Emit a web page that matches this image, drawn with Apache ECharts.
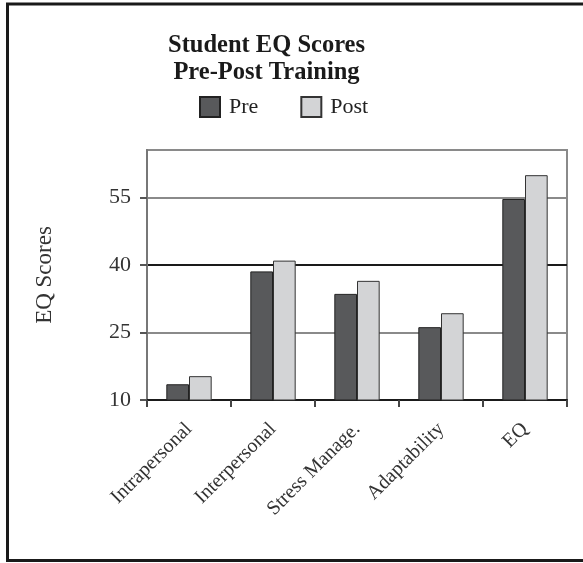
<!DOCTYPE html>
<html>
<head>
<meta charset="utf-8">
<script src="https://cdn.jsdelivr.net/npm/echarts@6/dist/echarts.min.js"></script>
<style>
  html, body { margin: 0; padding: 0; background: #fff; }
  #chart { width: 583px; height: 563px; }
</style>
</head>
<body>
<div id="chart"></div>
<script>
// Student EQ subscale scores before and after training
const categories = ['Intrapersonal', 'Interpersonal', 'Stress Manage.', 'Adaptability', 'EQ'];
const preScores  = [13.5, 38.6, 33.6, 26.2, 54.7];
const postScores = [15.3, 41.0, 36.5, 29.3, 60.0];
const seriesNames = ['Pre', 'Post'];

const SERIF = '"Liberation Serif", "DejaVu Serif", serif';
const chart = echarts.init(document.getElementById('chart'));

chart.setOption({
  backgroundColor: '#fff',
  animation: false,
  graphic: [
    {
      type: 'rect',
      shape: { x: 7.5, y: 4, width: 600, height: 556.5 },
      style: { fill: 'none', stroke: '#1a1a1a', lineWidth: 3 },
      silent: true
    },
    {
      type: 'text',
      x: 266.5, y: 32,
      style: {
        text: 'Student EQ Scores\nPre-Post Training',
        align: 'center',
        font: 'bold 24.5px ' + SERIF,
        lineHeight: 27,
        fill: '#1a1a1a'
      }
    }
  ],
  legend: {
    left: 199,
    top: 96,
    padding: 0,
    itemWidth: 20,
    itemHeight: 20,
    itemGap: 42,
    icon: 'rect',
    data: seriesNames,
    textStyle: { fontFamily: SERIF, fontSize: 22, color: '#222', padding: [0, 0, 0, 4] }
  },
  grid: {
    left: 147, right: 16, top: 150, bottom: 163,
    show: true, borderColor: '#8a8a8a', borderWidth: 2, backgroundColor: 'transparent'
  },
  xAxis: {
    type: 'category',
    data: categories,
    axisLine: { lineStyle: { color: '#1a1a1a', width: 2 } },
    axisTick: { show: true, length: 7, lineStyle: { color: '#444', width: 2 } },
    axisLabel: {
      rotate: 45, margin: 26, interval: 0,
      fontFamily: SERIF, fontSize: 20, color: '#333'
    }
  },
  yAxis: {
    type: 'value',
    min: 10, max: 65.6, interval: 15,
    name: 'EQ Scores',
    nameLocation: 'middle',
    nameGap: 91,
    nameRotate: 90,
    nameTextStyle: { fontFamily: SERIF, fontSize: 23, color: '#333' },
    axisLine: { show: true, lineStyle: { color: '#777', width: 2 } },
    axisTick: { show: true, length: 7, lineStyle: { color: '#555', width: 2 } },
    axisLabel: {
      margin: 16, showMaxLabel: false,
      fontFamily: SERIF, fontSize: 22, color: '#333'
    },
    splitLine: { show: true, lineStyle: { color: ['#1a1a1a', '#8a8a8a', '#1a1a1a', '#8a8a8a', '#8a8a8a'], width: 2 } }
  },
  series: [
    {
      name: seriesNames[0], type: 'bar', data: preScores,
      barWidth: '27%', barGap: '0%',
      itemStyle: { color: '#58595b', borderColor: '#222', borderWidth: 1 }
    },
    {
      name: seriesNames[1], type: 'bar', data: postScores,
      barWidth: '27%', barGap: '0%',
      itemStyle: { color: '#d3d4d6', borderColor: '#333', borderWidth: 1 }
    }
  ]
});
</script>
</body>
</html>
